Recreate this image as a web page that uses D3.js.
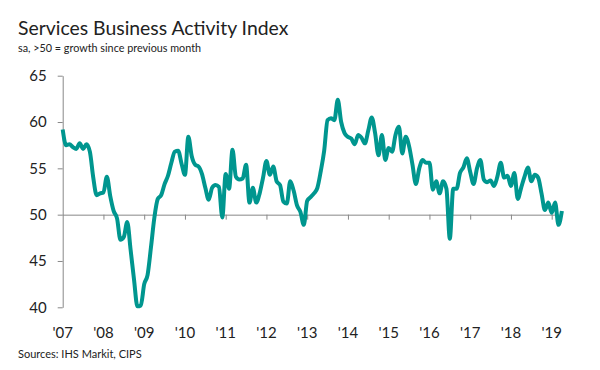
<!DOCTYPE html>
<html>
<head>
<meta charset="utf-8">
<script src="https://cdn.jsdelivr.net/npm/d3@7"></script>
<style>
  body { margin: 0; background: #fff; }
  svg text { font-family: Lato, "Open Sans", sans-serif; fill: #222; }
</style>
</head>
<body>
<div id="chart"></div>
<script>
// monthly index values, Jan 2007 .. Apr 2019
var startYear = 2007;
var values = [
  59.2, 57.5, 57.6, 57.3, 57.1, 57.7, 57.1, 57.6, 56.8, 54.0, 52.1, 52.3,
  52.4, 54.1, 52.0, 50.4, 49.6, 47.3, 47.6, 49.2, 46.2, 43.0, 40.1, 40.2,
  42.5, 43.5, 46.5, 49.7, 51.7, 52.1, 53.3, 54.2, 55.6, 56.8, 56.9, 55.5,
  54.3, 58.4, 56.3, 55.4, 55.2, 54.4, 52.9, 51.6, 52.9, 53.2, 53.0, 49.7,
  54.4, 52.8, 57.0, 54.1, 53.8, 53.9, 55.4, 51.3, 52.9, 51.3, 52.3, 54.0,
  55.8, 54.3, 55.2, 53.6, 53.2, 51.4, 51.2, 53.6, 52.6, 51.0, 50.3, 48.9,
  51.5, 51.9, 52.3, 52.9, 54.7, 56.9, 60.2, 60.4, 60.2, 62.4, 60.0, 58.8,
  58.4, 58.2, 57.6, 58.6, 58.3, 57.7, 59.1, 60.5, 58.8, 56.4, 58.6, 55.9,
  57.2, 56.8, 58.6, 59.5, 56.6, 58.4, 57.4, 55.4, 53.3, 55.0, 55.9, 55.6,
  55.6, 52.7, 53.6, 52.3, 53.6, 52.8, 47.4, 52.8, 52.8, 54.5, 55.1, 56.1,
  54.6, 53.3, 55.0, 55.9, 53.8, 53.5, 53.7, 53.1, 54.1, 55.6, 54.0, 54.2,
  53.1, 54.5, 51.7, 52.9, 54.1, 55.1, 53.6, 54.3, 54.0, 52.3, 50.5, 51.3,
  50.2, 51.3, 48.9, 50.4
];
var yearLabels = ["'07", "'08", "'09", "'10", "'11", "'12", "'13", "'14", "'15", "'16", "'17", "'18", "'19"];
var yTicks = [40, 45, 50, 55, 60, 65];

var width = 600, height = 370;
var svg = d3.select("#chart").append("svg").attr("width", width).attr("height", height);

var plotLeft = 62.7, plotRight = 562, plotTop = 75.7, plotBottom = 307.3;
var yearW = 40.75;

var x = d3.scaleLinear().domain([0, 12]).range([plotLeft, plotLeft + 12 * yearW]);
var y = d3.scaleLinear().domain([40, 65]).range([plotBottom, plotTop]);

svg.append("text").attr("x", 18).attr("y", 35).text("Services Business Activity Index")
   .style("font-size", "19.4px");
svg.append("text").attr("x", 18).attr("y", 52).text("sa, >50 = growth since previous month")
   .style("font-size", "10.8px");

// y axis
var yAxis = svg.append("g").attr("transform", "translate(" + plotLeft + ",0)")
   .call(d3.axisLeft(y).tickValues(yTicks).tickSize(5).tickSizeOuter(0).tickPadding(11));
yAxis.select(".domain").attr("stroke", "#888");
yAxis.selectAll(".tick line").attr("stroke", "#888");
yAxis.selectAll(".tick text").style("font-size", "15px").style("font-family", "Lato, sans-serif").attr("fill", "#222");

// x axis sitting on the 50 line
var xAxis = svg.append("g").attr("transform", "translate(0," + y(50) + ")")
   .call(d3.axisBottom(x).tickValues(d3.range(1, 13)).tickSize(5).tickSizeOuter(0).tickFormat(""));
xAxis.select(".domain").attr("stroke", "#888").attr("d", "M" + plotLeft + ",0.5H" + plotRight);
xAxis.selectAll(".tick line").attr("stroke", "#888");

svg.append("g").selectAll("text").data(yearLabels).join("text")
   .attr("x", function(d, i) { return x(i); })
   .attr("y", 338)
   .attr("text-anchor", "middle")
   .style("font-size", "15px")
   .text(function(d) { return d; });

var line = d3.line()
   .x(function(d, i) { return x(i / 12); })
   .y(function(d) { return y(d); })
   .curve(d3.curveMonotoneX);

svg.append("path").datum(values)
   .attr("d", line)
   .attr("fill", "none")
   .attr("stroke", "#00968f")
   .attr("stroke-width", 4)
   .attr("stroke-linejoin", "round");

svg.append("text").attr("x", 18).attr("y", 358).text("Sources: IHS Markit, CIPS")
   .style("font-size", "11px");
</script>
</body>
</html>
